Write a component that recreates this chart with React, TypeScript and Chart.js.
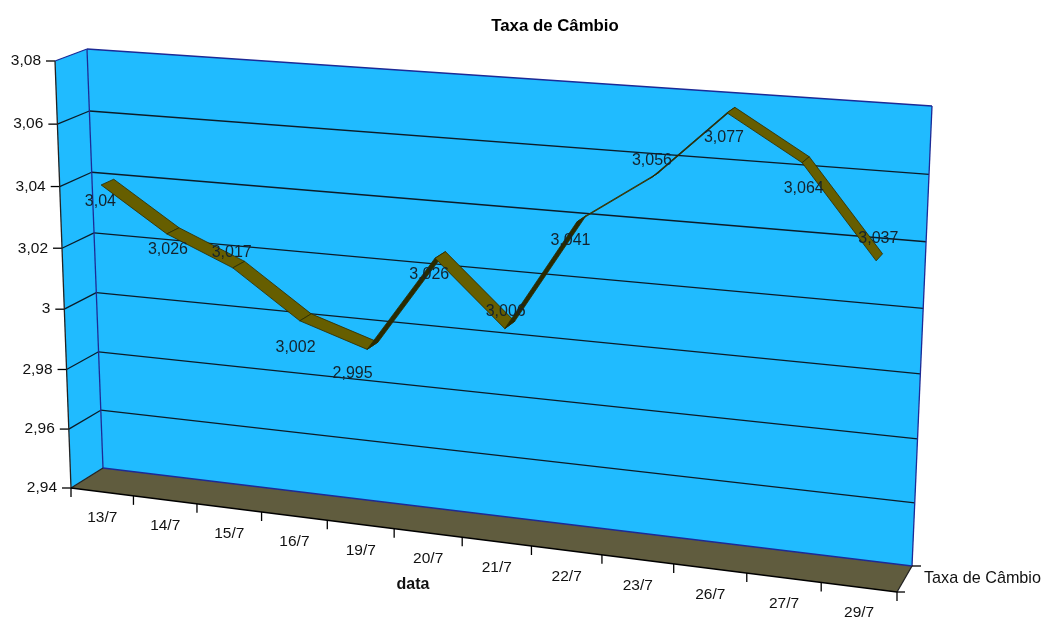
import React, { useEffect, useRef } from "react";
import { Chart, registerables } from "chart.js";

Chart.register(...registerables);

const categories = ["13/7", "14/7", "15/7", "16/7", "19/7", "20/7", "21/7", "22/7", "23/7", "26/7", "27/7", "29/7"];
const rates = [3.04, 3.026, 3.017, 3.002, 2.995, 3.026, 3.006, 3.041, 3.056, 3.077, 3.064, 3.037];
const seriesName = "Taxa de Câmbio";
const xAxisName = "data";
const labelShift = [
  [-7, 20], [-5, 19], [-7, -12], [-10, 30], [-20, 28], [-11, 20],
  [-4, -13], [-11, 22], [-3, -15], [-7, 28], [-2, 29], [-1, -19],
];

type P = [number, number];

// Corners of the 3D box in canvas space, ordered bottom-left, bottom-right, top-right, top-left.
const FRONT: P[] = [[71, 488], [897, 592], [917, 120], [55, 61]];
const BACK: P[] = [[103, 468], [912, 566], [932, 106], [87, 49]];
const RIBBON_NEAR = 0.3;
const RIBBON_FAR = 0.7;

const SANS = "'Liberation Sans', Arial, sans-serif";
const WALL = "#20bbff";
const FLOOR = "#605c3e";
const RIBBON_TOP = "#665e00";
const RIBBON_UNDER = "#2a2a00";
const RIBBON_EDGE = "#2c2a00";
const EDGE = "#1c2a96";
const GRID = "#0c1c28";

// Perspective map from the unit square onto a quadrilateral.
function squareToQuad(q: P[]) {
  const [[x0, y0], [x1, y1], [x2, y2], [x3, y3]] = q;
  const dx1 = x1 - x2, dx2 = x3 - x2, sx = x0 - x1 + x2 - x3;
  const dy1 = y1 - y2, dy2 = y3 - y2, sy = y0 - y1 + y2 - y3;
  const det = dx1 * dy2 - dx2 * dy1;
  const g = (sx * dy2 - dx2 * sy) / det;
  const h = (dx1 * sy - sx * dy1) / det;
  const a = x1 - x0 + g * x1, b = x3 - x0 + h * x3;
  const d = y1 - y0 + g * y1, e = y3 - y0 + h * y3;
  return (u: number, v: number): P => {
    const k = g * u + h * v + 1;
    return [(a * u + b * v + x0) / k, (d * u + e * v + y0) / k];
  };
}

const frontMap = squareToQuad(FRONT);
const backMap = squareToQuad(BACK);

function project(u: number, v: number, w: number): P {
  const f = frontMap(u, v);
  const b = backMap(u, v);
  return [f[0] + (b[0] - f[0]) * w, f[1] + (b[1] - f[1]) * w];
}

function polygon(ctx: CanvasRenderingContext2D, pts: P[], fill?: string, stroke?: string) {
  ctx.beginPath();
  pts.forEach((p, i) => (i ? ctx.lineTo(p[0], p[1]) : ctx.moveTo(p[0], p[1])));
  ctx.closePath();
  if (fill) { ctx.fillStyle = fill; ctx.fill(); }
  if (stroke) { ctx.strokeStyle = stroke; ctx.stroke(); }
}

function line(ctx: CanvasRenderingContext2D, a: P, b: P, color: string, width = 1.3) {
  ctx.beginPath();
  ctx.moveTo(a[0], a[1]);
  ctx.lineTo(b[0], b[1]);
  ctx.strokeStyle = color;
  ctx.lineWidth = width;
  ctx.stroke();
}

// Draws the box, axes and ribbon by passing the chart's own scale pixels through the projection.
const box3d = {
  id: "box3d",
  beforeDatasetsDraw(chart: any) {
    const { ctx, chartArea: area, scales } = chart;
    const toU = (px: number) => (px - area.left) / (area.right - area.left);
    const toV = (py: number) => (area.bottom - py) / (area.bottom - area.top);
    const xs = scales.x;
    const ys = scales.y;

    ctx.save();

    polygon(ctx, [project(0, 0, 1), project(1, 0, 1), project(1, 1, 1), project(0, 1, 1)], WALL);
    polygon(ctx, [project(0, 0, 0), project(0, 0, 1), project(0, 1, 1), project(0, 1, 0)], WALL);
    polygon(ctx, [project(0, 0, 0), project(1, 0, 0), project(1, 0, 1), project(0, 0, 1)], FLOOR);

    // Horizontal gridlines across both walls, with the value ticks and labels at the front edge.
    ctx.font = `15.5px ${SANS}`;
    ctx.textBaseline = "middle";
    ys.ticks.forEach((t: any) => {
      const v = toV(ys.getPixelForValue(t.value));
      const front = project(0, v, 0);
      const back = project(0, v, 1);
      if (v > 0.001 && v < 0.999) {
        line(ctx, front, back, GRID);
        line(ctx, back, project(1, v, 1), GRID);
      }
      line(ctx, [front[0] - 9, front[1]], front, "#000");
      ctx.fillStyle = "#111";
      ctx.textAlign = "right";
      ctx.fillText(t.label, front[0] - 14, front[1]);
    });

    // Box outlines.
    line(ctx, project(0, 1, 0), project(0, 1, 1), EDGE);
    line(ctx, project(0, 1, 1), project(1, 1, 1), EDGE);
    line(ctx, project(1, 1, 1), project(1, 0, 1), EDGE);
    line(ctx, project(0, 1, 1), project(0, 0, 1), EDGE);
    line(ctx, project(0, 0, 1), project(1, 0, 1), EDGE);
    line(ctx, project(0, 0, 0), project(0, 0, 1), "#222");
    line(ctx, project(1, 0, 0), project(1, 0, 1), "#222");
    line(ctx, project(0, 1, 0), project(0, 0, 0), "#222");
    line(ctx, project(0, 0, 0), project(1, 0, 0), "#000");

    // Category ticks sit between categories; labels hang below the front floor edge.
    ctx.textAlign = "center";
    categories.forEach((_, i) => {
      const u0 = toU(xs.getPixelForValue(i - 0.5));
      const u1 = toU(xs.getPixelForValue(i + 0.5));
      if (i === 0) {
        const s = project(u0, 0, 0);
        line(ctx, s, [s[0], s[1] + 9], "#000");
      }
      const e = project(u1, 0, 0);
      line(ctx, e, [e[0], e[1] + 9], "#000");
      const c = project(toU(xs.getPixelForValue(i)), 0, 0);
      ctx.fillStyle = "#111";
      ctx.fillText(xs.ticks[i].label, (project(u0, 0, 0)[0] + e[0]) / 2, c[1] + 26);
    });

    // Depth axis: one tick at each end and the series name.
    const farEnd = project(1, 0, 1);
    const nearEnd = project(1, 0, 0);
    line(ctx, farEnd, [farEnd[0] + 9, farEnd[1]], "#000");
    line(ctx, nearEnd, [nearEnd[0] + 8, nearEnd[1]], "#000");
    ctx.textAlign = "left";
    ctx.fillStyle = "#111";
    ctx.font = `16.2px ${SANS}`;
    ctx.fillText(seriesName, 924, 579);

    ctx.textAlign = "center";
    ctx.font = `bold 16px ${SANS}`;
    ctx.fillText(xAxisName, 413, 585);

    // Ribbon, one quad per segment; the underside shows when the winding flips.
    const meta = chart.getDatasetMeta(0);
    const pos = meta.data.map((el: any) => [toU(el.x), toV(el.y)]);
    for (let i = 0; i < pos.length - 1; i++) {
      const [u0, v0] = pos[i];
      const [u1, v1] = pos[i + 1];
      const quad: P[] = [
        project(u0, v0, RIBBON_NEAR),
        project(u1, v1, RIBBON_NEAR),
        project(u1, v1, RIBBON_FAR),
        project(u0, v0, RIBBON_FAR),
      ];
      let area2 = 0;
      quad.forEach((p, k) => {
        const n = quad[(k + 1) % 4];
        area2 += p[0] * n[1] - n[0] * p[1];
      });
      ctx.lineWidth = 0.8;
      polygon(ctx, quad, area2 < 0 ? RIBBON_TOP : RIBBON_UNDER, RIBBON_EDGE);
    }

    // Value labels in Brazilian number format.
    ctx.font = `16px ${SANS}`;
    ctx.fillStyle = "#14222c";
    ctx.textAlign = "center";
    pos.forEach(([u, v]: number[], i: number) => {
      const m = project(u, v, 0.5);
      const text = String(rates[i]).replace(".", ",");
      ctx.fillText(text, m[0] + labelShift[i][0], m[1] + labelShift[i][1]);
    });
    ctx.restore();
  },
};

export default function App() {
  const ref = useRef<HTMLCanvasElement>(null);
  useEffect(() => {
    const chart = new Chart(ref.current!, {
      type: "line",
      data: {
        labels: categories,
        datasets: [{
          label: seriesName,
          data: rates,
          borderColor: "transparent",
          backgroundColor: "transparent",
          pointRadius: 0,
        }],
      },
      options: {
        responsive: false,
        animation: false,
        layout: { padding: { left: 66, top: 9 } },
        plugins: {
          legend: { display: false },
          tooltip: { enabled: false },
          title: {
            display: true,
            text: seriesName,
            color: "#000",
            font: { family: SANS, size: 16.8, weight: "bold" },
            padding: { top: 7, bottom: 10 },
          },
        },
        scales: {
          x: { display: false, offset: true, ticks: { autoSkip: false } },
          y: {
            display: false,
            min: 2.94,
            max: 3.08,
            ticks: {
              stepSize: 0.02,
              callback: (v: any) => String(+Number(v).toFixed(2)).replace(".", ","),
            },
          },
        },
      },
      plugins: [box3d],
    });
    return () => chart.destroy();
  }, []);
  return (
    <div style={{ position: "absolute", left: 0, top: 0, width: 1044, height: 619, background: "#fff" }}>
      <canvas ref={ref} width={1044} height={619} style={{ display: "block" }} />
    </div>
  );
}
